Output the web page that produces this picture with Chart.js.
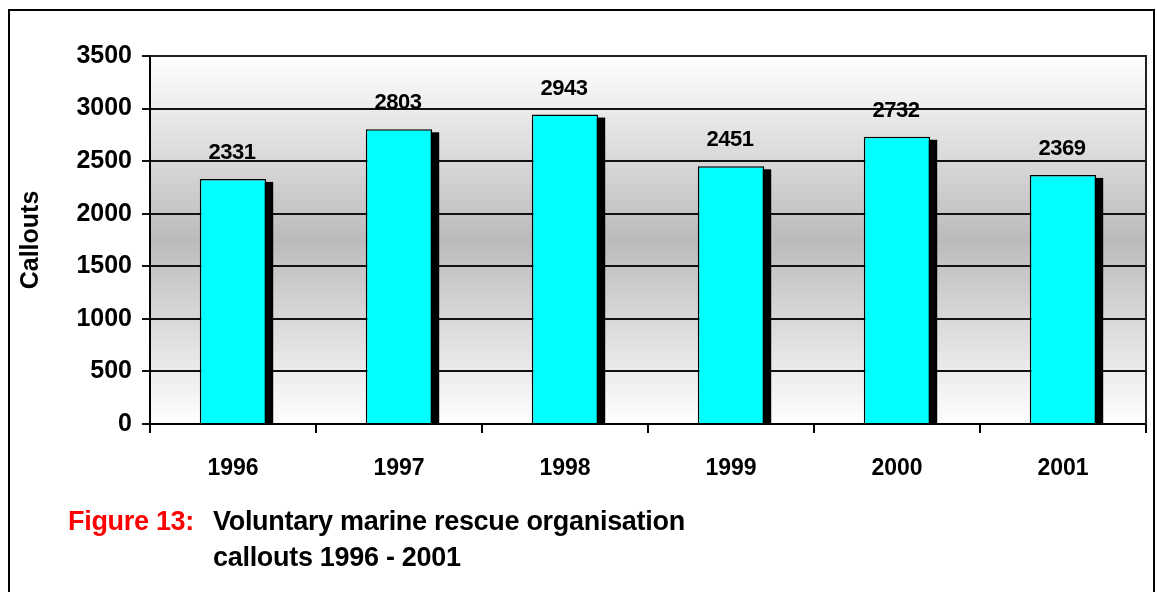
<!DOCTYPE html>
<html>
<head>
<meta charset="utf-8">
<script src="https://cdn.jsdelivr.net/npm/chart.js@4/dist/chart.umd.min.js"></script>
<style>
  html, body { margin: 0; padding: 0; background: #fff; }
  body { width: 1157px; height: 592px; position: relative; overflow: hidden; font-family: "Liberation Sans", Arial, sans-serif; }
  #frame { position: absolute; left: 8px; top: 9px; width: 1147px; height: 600px; border: 2px solid #000; box-sizing: border-box; }
  #chart { position: absolute; left: 0; top: 0; }
  .cap { position: absolute; font-weight: bold; font-size: 27px; letter-spacing: -0.3px; white-space: nowrap; line-height: 30px; }
</style>
</head>
<body>
<div id="frame"></div>
<canvas id="chart" width="1157" height="592"></canvas>
<div class="cap" style="left:68px; top:506px; color:#ff0000;">Figure 13:</div>
<div class="cap" style="left:213px; top:506px; color:#000;">Voluntary marine rescue organisation</div>
<div class="cap" style="left:213px; top:542px; color:#000;">callouts 1996 - 2001</div>
<script>
// data
const years = ['1996', '1997', '1998', '1999', '2000', '2001'];
const callouts = [2331, 2803, 2943, 2451, 2732, 2369];
const yTicks = [0, 500, 1000, 1500, 2000, 2500, 3000, 3500];

const FONT = '"Liberation Sans", Arial, sans-serif';

// grey gradient behind the plot + frame on top/right
const plotBg = {
    id: 'plotBg',
    beforeDraw(chart) {
        const { ctx, chartArea: a } = chart;
        const g = ctx.createLinearGradient(0, a.top, 0, a.bottom);
        g.addColorStop(0, '#ffffff');
        g.addColorStop(0.5, '#bbbbbb');
        g.addColorStop(1, '#ffffff');
        ctx.save();
        ctx.fillStyle = g;
        ctx.fillRect(a.left, a.top, a.right - a.left, a.bottom - a.top);
        ctx.restore();
    },
    afterDraw(chart) {
        const { ctx, chartArea: a } = chart;
        ctx.save();
        ctx.strokeStyle = '#222';
        ctx.lineWidth = 2;
        ctx.beginPath();
        ctx.moveTo(a.left, a.top);
        ctx.lineTo(a.right, a.top);
        ctx.lineTo(a.right, a.bottom);
        ctx.stroke();
        ctx.restore();
    }
};

// black drop shadow to the right of each bar
const barShadow = {
    id: 'barShadow',
    beforeDatasetsDraw(chart) {
        const { ctx, chartArea: a } = chart;
        const meta = chart.getDatasetMeta(0);
        ctx.save();
        ctx.fillStyle = '#000';
        meta.data.forEach(bar => {
            const left = bar.x - bar.width / 2 + 7;
            const top = bar.y + 3;
            ctx.fillRect(left, top, bar.width, a.bottom - top);
        });
        ctx.restore();
    }
};

// value labels above the bars
const valueLabels = {
    id: 'valueLabels',
    afterDatasetsDraw(chart) {
        const { ctx } = chart;
        const meta = chart.getDatasetMeta(0);
        ctx.save();
        ctx.font = 'bold 22px ' + FONT;
        ctx.fillStyle = '#000';
        ctx.textAlign = 'center';
        ctx.textBaseline = 'middle';
        if ('letterSpacing' in ctx) ctx.letterSpacing = '-0.5px';
        meta.data.forEach((bar, i) => {
            ctx.fillText(String(callouts[i]), bar.x - 1, bar.y - 26);
        });
        ctx.restore();
    }
};

new Chart(document.getElementById('chart'), {
    type: 'bar',
    data: {
        labels: years,
        datasets: [{
            data: callouts,
            backgroundColor: '#00ffff',
            borderColor: '#000',
            borderWidth: 1.5,
            borderSkipped: 'bottom',
            categoryPercentage: 1,
            barPercentage: 0.4
        }]
    },
    options: {
        responsive: false,
        animation: false,
        layout: { padding: { left: 10, top: 56, right: 11, bottom: 108 } },
        plugins: {
            legend: { display: false },
            tooltip: { enabled: false }
        },
        scales: {
            x: {
                offset: true,
                grid: {
                    offset: true,
                    drawOnChartArea: false,
                    drawTicks: true,
                    tickLength: 9,
                    color: '#000',
                    lineWidth: 2
                },
                border: { color: '#000', width: 2 },
                ticks: {
                    color: '#000',
                    padding: 22,
                    font: { family: FONT, size: 23, weight: 'bold' }
                },
                afterFit(scale) { scale.height = 60; }
            },
            y: {
                min: 0,
                max: 3500,
                afterBuildTicks(scale) {
                    scale.ticks = yTicks.map(v => ({ value: v }));
                },
                grid: {
                    color: '#111',
                    lineWidth: 2,
                    tickLength: 8
                },
                border: { color: '#000', width: 2 },
                ticks: {
                    color: '#000',
                    padding: 10,
                    font: { family: FONT, size: 25, weight: 'bold' },
                    callback: v => String(v)
                },
                title: {
                    display: true,
                    text: 'Callouts',
                    color: '#000',
                    padding: { top: 6, bottom: 4 },
                    font: { family: FONT, size: 25, weight: 'bold' }
                },
                afterFit(scale) { scale.width = 140; }
            }
        }
    },
    plugins: [plotBg, barShadow, valueLabels]
});
</script>
</body>
</html>
